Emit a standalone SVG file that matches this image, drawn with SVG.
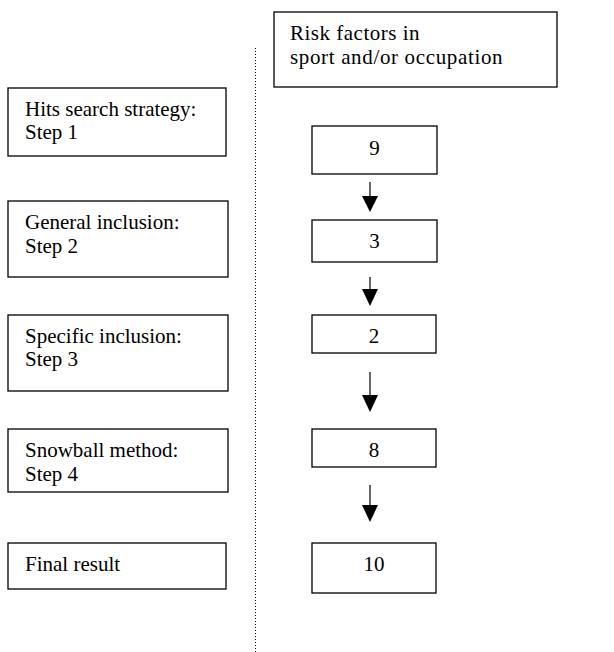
<svg xmlns="http://www.w3.org/2000/svg" width="614" height="652" viewBox="0 0 614 652">
<defs>
<style>
.box{fill:#fff;stroke:#000;stroke-width:1.3}
.t{font-family:"Liberation Serif","Times New Roman",serif;font-size:21px;fill:#000}
.n{font-family:"Liberation Serif","Times New Roman",serif;font-size:21px;fill:#000;text-anchor:middle}
.sh{stroke:#000;stroke-width:1.2;fill:none}
.hd{fill:#000}
</style>
</defs>
<rect width="614" height="652" fill="#fff"/>
<g id="divider">
<line x1="255.5" y1="48" x2="255.5" y2="652" stroke="#000" stroke-width="1" stroke-dasharray="1 2"/>
</g>
<g id="header">
<rect class="box" x="274" y="12" width="283" height="75"/>
<text class="t" x="290" y="39.5" letter-spacing="0.5">Risk factors in</text>
<text class="t" x="290" y="64" letter-spacing="0.65">sport and/or occupation</text>
</g>
<g id="step1">
<rect class="box" x="8" y="88" width="218" height="68"/>
<text class="t" x="25" y="115.5">Hits search strategy:</text>
<text class="t" x="25" y="139">Step 1</text>
</g>
<g id="step2">
<rect class="box" x="8" y="201" width="220" height="76"/>
<text class="t" x="25" y="229">General inclusion:</text>
<text class="t" x="25" y="252.5">Step 2</text>
</g>
<g id="step3">
<rect class="box" x="8" y="315" width="220" height="76"/>
<text class="t" x="25" y="342.5">Specific inclusion:</text>
<text class="t" x="25" y="366">Step 3</text>
</g>
<g id="step4">
<rect class="box" x="8" y="429" width="220" height="63"/>
<text class="t" x="25" y="456.5">Snowball method:</text>
<text class="t" x="25" y="480.5">Step 4</text>
</g>
<g id="final">
<rect class="box" x="8" y="543" width="218" height="46"/>
<text class="t" x="25" y="571">Final result</text>
</g>
<g id="n9">
<rect class="box" x="312" y="126" width="125" height="48"/>
<text class="n" x="374.5" y="155">9</text>
</g>
<g id="n3">
<rect class="box" x="312" y="220" width="125" height="42"/>
<text class="n" x="374.5" y="248">3</text>
</g>
<g id="n2">
<rect class="box" x="312" y="315" width="124" height="38"/>
<text class="n" x="374" y="343">2</text>
</g>
<g id="n8">
<rect class="box" x="312" y="429" width="124" height="38"/>
<text class="n" x="374" y="457">8</text>
</g>
<g id="n10">
<rect class="box" x="312" y="543" width="124" height="50"/>
<text class="n" x="374" y="571">10</text>
</g>
<g id="connectors">
<line class="sh" x1="370" y1="182" x2="370" y2="197"/>
<polygon class="hd" points="362,196 378,196 370,212"/>
<line class="sh" x1="370" y1="277" x2="370" y2="290"/>
<polygon class="hd" points="362,289 378,289 370,306"/>
<line class="sh" x1="370" y1="372" x2="370" y2="396"/>
<polygon class="hd" points="362,395 378,395 370,412"/>
<line class="sh" x1="370" y1="485" x2="370" y2="506"/>
<polygon class="hd" points="362,505 378,505 370,522"/>
</g>
</svg>
